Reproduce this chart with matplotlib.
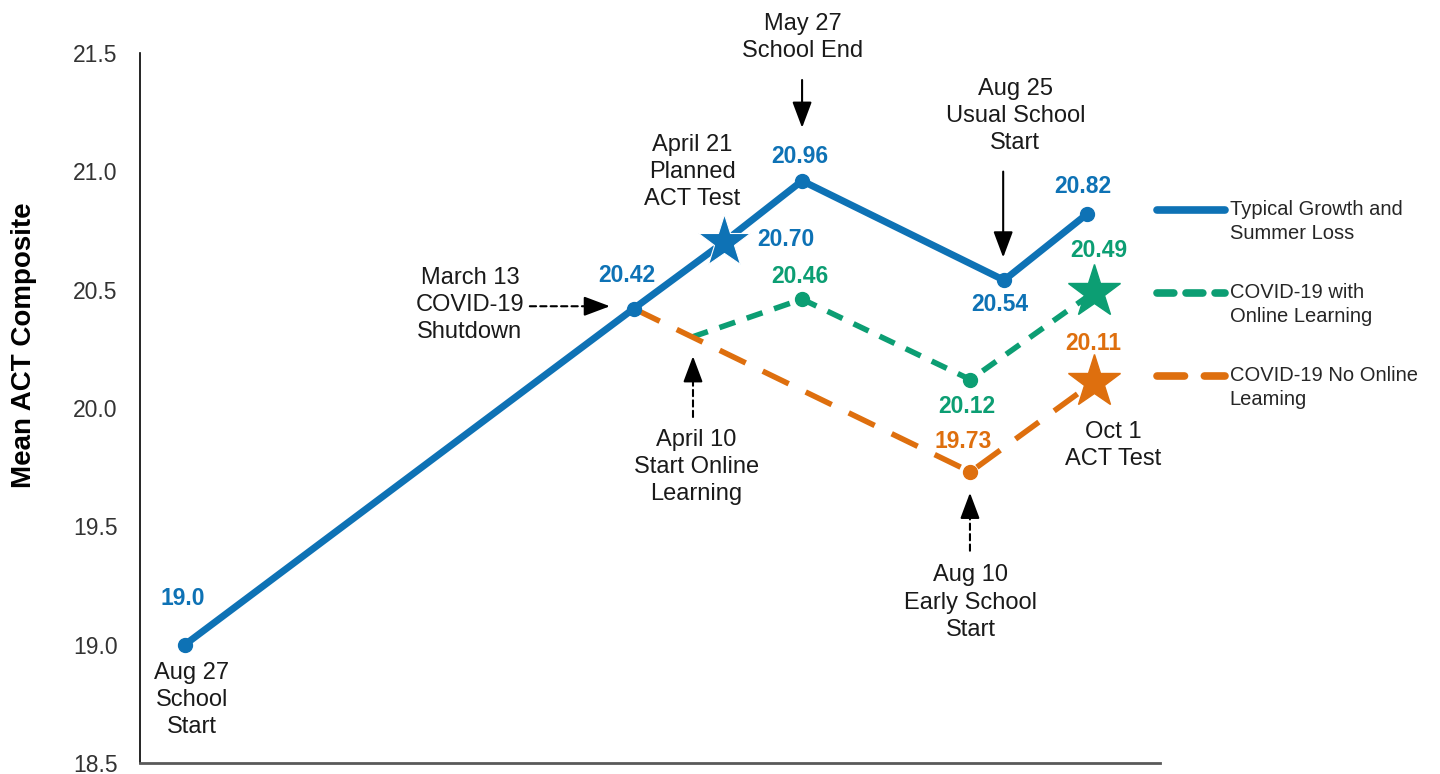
import matplotlib.pyplot as plt
from matplotlib.lines import Line2D

plt.rcParams['font.family'] = ['Liberation Sans', 'DejaVu Sans']

# days since Aug 27 (school start)
typical_x = [0, 200, 240, 275, 365, 402]
typical_y = [19.0, 20.42, 20.70, 20.96, 20.54, 20.82]
typical_lbl = ['19.0', '20.42', '20.70', '20.96', '20.54', '20.82']

online_x = [226, 275, 350, 405]
online_y = [20.30, 20.46, 20.12, 20.49]
online_lbl = ['', '20.46', '20.12', '20.49']

noonline_x = [200, 350, 405]
noonline_y = [20.42, 19.73, 20.11]
noonline_lbl = ['', '19.73', '20.11']

c_blue = '#0E72B5'
c_green = '#0C9E73'
c_orange = '#DE6F0E'

fig = plt.figure(figsize=(14.4, 7.74), dpi=100)
ax = fig.add_axes([0.0972, 0.0142, 0.7084, 0.9173])

ax.plot(typical_x, typical_y, color=c_blue, lw=5, solid_capstyle='round', zorder=3)
ax.plot(online_x, online_y, color=c_green, lw=4, ls=(0, (3, 2.2)), zorder=2)
ax.plot(noonline_x, noonline_y, color=c_orange, lw=4, ls=(0, (5.2, 3.4)), zorder=2)

# markers: circles for points, stars for ACT test dates
ax.plot([typical_x[i] for i in (0, 1, 3, 4, 5)], [typical_y[i] for i in (0, 1, 3, 4, 5)],
        'o', color=c_blue, ms=10, zorder=4)
ax.plot(typical_x[2], typical_y[2], '*', color=c_blue, ms=40, mec='white', mew=0.8, zorder=5)
ax.plot(online_x[1:3], online_y[1:3], 'o', color=c_green, ms=10, zorder=4)
ax.plot(online_x[3], online_y[3], '*', color=c_green, ms=40, zorder=5)
ax.plot(noonline_x[1], noonline_y[1], 'o', color=c_orange, ms=10, zorder=4)
ax.plot(noonline_x[2], noonline_y[2], '*', color=c_orange, ms=40, zorder=5)

# value labels
vfont = dict(fontsize=16.5, fontweight='bold', ha='center', va='center')
blue_pos = [(-1, 19.195), (197, 20.56), (268, 20.712), (274, 21.062), (363, 20.438), (400, 20.935)]
for (tx, ty), s in zip(blue_pos, typical_lbl):
    ax.text(tx, ty, s, color=c_blue, **vfont)
green_pos = [None, (274, 20.556), (348.5, 20.008), (407, 20.665)]
for p, s in zip(green_pos, online_lbl):
    if p:
        ax.text(p[0], p[1], s, color=c_green, **vfont)
orange_pos = [None, (347, 19.857), (404.6, 20.274)]
for p, s in zip(orange_pos, noonline_lbl):
    if p:
        ax.text(p[0], p[1], s, color=c_orange, **vfont)

# event annotations
tfont = dict(fontsize=17, ha='center', va='center', color='#1a1a1a', linespacing=1.3)
ax.text(3, 18.765, 'Aug 27\nSchool\nStart', **tfont)
ax.text(127, 20.434, 'March 13\nCOVID-19\nShutdown', **tfont)
ax.text(226, 20.998, 'April 21\nPlanned\nACT Test', **tfont)
ax.text(275.4, 21.567, 'May 27\nSchool End', clip_on=False, **tfont)
ax.text(370, 21.235, 'Aug 25\nUsual School\nStart', **tfont)
ax.text(228, 19.751, 'April 10\nStart Online\nLearning', **tfont)
ax.text(350, 19.178, 'Aug 10\nEarly School\nStart', **tfont)
ax.text(413.5, 19.84, 'Oct 1\nACT Test', **tfont)

head = dict(arrowstyle='-|>,head_width=0.3,head_length=0.8', color='black', lw=1.5,
            mutation_scale=20, shrinkA=0, shrinkB=0)
shaft = dict(arrowstyle='-', color='black', lw=1.5, linestyle=(0, (3, 2)),
             shrinkA=0, shrinkB=0)
ax.annotate('', xy=(275, 21.184), xytext=(275, 21.386), arrowprops=head)
ax.annotate('', xy=(364.6, 20.636), xytext=(364.6, 20.999), arrowprops=head)


def dashed_arrow(tip, tail, frac=0.12):
    # dashed shaft plus a short solid arrow for a clean head
    mid = (tip[0] + (tail[0] - tip[0]) * frac, tip[1] + (tail[1] - tip[1]) * frac)
    ax.annotate('', xy=mid, xytext=tail, arrowprops=shaft)
    ax.annotate('', xy=tip, xytext=mid, arrowprops=head)


dashed_arrow((189.4, 20.43), (153.7, 20.43), 0.2)
dashed_arrow((226.4, 20.219), (226.4, 19.962), 0.25)
dashed_arrow((349.8, 19.642), (349.8, 19.397), 0.25)

ax.set_xlim(-20, 434.5)
ax.set_ylim(18.5, 21.5)
ax.set_yticks([18.5, 19.0, 19.5, 20.0, 20.5, 21.0, 21.5])
ax.set_yticklabels(['18.5', '19.0', '19.5', '20.0', '20.5', '21.0', '21.5'])
ax.set_xticks([])
ax.tick_params(axis='y', length=0, pad=16, labelsize=16.5, labelcolor='#333333')
ax.spines['top'].set_visible(False)
ax.spines['right'].set_visible(False)
ax.spines['left'].set_color('black')
ax.spines['left'].set_linewidth(1.2)
ax.spines['bottom'].set_color('#595959')
ax.spines['bottom'].set_linewidth(2)
ax.set_ylabel('Mean ACT Composite', fontsize=20, fontweight='bold', color='black')
ax.yaxis.set_label_coords(-0.101, 0.589)

# legend drawn at the right
leg_items = [('Typical Growth and\nSummer Loss', c_blue, '-', 0.7287),
             ('COVID-19 with\nOnline Learning', c_green, (0, (2.2, 1.6)), 0.6214),
             ('COVID-19 No Online\nLeaming', c_orange, (0, (3.6, 2.6)), 0.5142)]
for lbl, col, ls, yy in leg_items:
    fig.add_artist(Line2D([0.8035, 0.8507], [yy, yy], color=col, lw=5.5, ls=ls,
                          solid_capstyle='round', dash_capstyle='round'))
    fig.text(0.854, yy - 0.015, lbl, fontsize=14.5, color='#262626', va='center',
             ha='left', linespacing=1.35)

fig.savefig('out.png', dpi=100)
